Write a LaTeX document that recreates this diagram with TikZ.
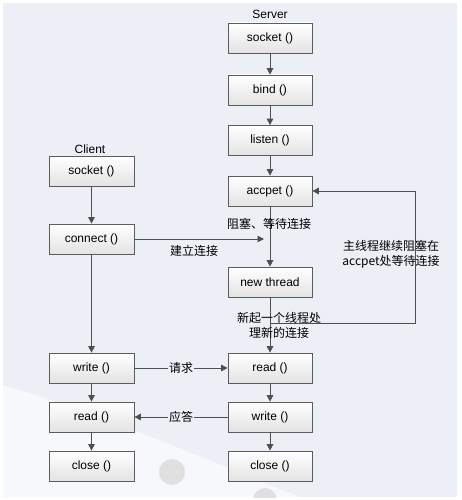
\documentclass[tikz,border=0pt]{standalone}
\usepackage{fontspec}
\setmainfont{Liberation Sans}
\newfontfamily\cjk{Noto Sans CJK SC}
\usetikzlibrary{arrows.meta}
\definecolor{bgc}{HTML}{ECEFF6}
\definecolor{lnc}{HTML}{4F4F4F}
\definecolor{bdc}{HTML}{5C5C5C}
\tikzset{
  fn/.style={draw=bdc, line width=0.7pt, top color=white, bottom color=black!11,
    minimum width=84pt, minimum height=30pt, inner sep=0pt, font=\fontsize{12}{12}\selectfont},
  arr/.style={draw=lnc, line width=0.9pt, -{Triangle[length=6.5pt,width=6.5pt]}},
  ln/.style={draw=lnc, line width=0.9pt},
  cn/.style={font=\cjk\fontsize{12}{15}\selectfont, align=center, inner sep=1pt},
  title/.style={font=\fontsize{12}{12}\selectfont}
}
\begin{document}
\begin{tikzpicture}[x=1pt,y=-1pt]
\useasboundingbox (0,0) rectangle (461,500);
\fill[white] (0,0) rectangle (461,500);
\fill[bgc] (3,3) rectangle (457,497);
% decoration
\fill[white!55!bgc] (3,385) .. controls (120,420) and (230,470) .. (300,497) -- (3,497) -- cycle;
\fill[black!12] (172,472) circle (13);
\begin{scope}
\clip (3,3) rectangle (457,497);
\fill[black!12] (265,500) circle (12);
\end{scope}
% titles
\node[title] (stitle) at (270,14) {Server};
\node[title] (ctitle) at (90,149) {Client};
% server nodes
\node[fn] (ssock) at (270,38) {socket ()};
\node[fn] (sbind) at (270,90) {bind ()};
\node[fn] (slist) at (270,140.5) {listen ()};
\node[fn] (sacc) at (270,191) {accpet ()};
\node[fn] (snt) at (270,282) {new thread};
\node[fn] (sread) at (270,368) {read ()};
\node[fn] (swrite) at (270,417) {write ()};
\node[fn] (sclose) at (270,466) {close ()};
% client nodes
\node[fn, minimum width=85pt] (csock) at (91.5,171) {socket ()};
\node[fn, minimum width=85pt] (ccon) at (91.5,239) {connect ()};
\node[fn, minimum width=85pt] (cwrite) at (91.5,368) {write ()};
\node[fn, minimum width=85pt] (cread) at (91.5,417) {read ()};
\node[fn, minimum width=85pt] (cclose) at (91.5,466) {close ()};
% server arrows
\draw[arr] (ssock) -- (sbind);
\draw[arr] (sbind) -- (slist);
\draw[arr] (slist) -- (sacc);
\draw[arr] (sacc) -- (snt);
\draw[arr] (snt) -- (sread);
\draw[arr] (sread) -- (swrite);
\draw[arr] (swrite) -- (sclose);
% loop back
\coordinate (lp) at (270,323);
\coordinate (lc) at (415,323);
\draw[arr] (lp) -- (lc) |- (sacc.east);
% client arrows
\draw[arr] (csock) -- (ccon);
\draw[arr] (ccon) -- (cwrite);
\draw[arr] (cwrite) -- (cread);
\draw[arr] (cread) -- (cclose);
% connect
\coordinate (ce) at (264,239);
\draw[arr] (ccon.east) -- (ce);
% request / reply
\draw[arr] (cwrite) -- (sread) node[midway, cn, fill=bgc] (lreq) {请求};
\draw[arr] (swrite) -- (cread) node[midway, cn, fill=bgc] (lrep) {应答};
% labels
\node[cn] (lblock) at (269,224) {阻塞、等待连接};
\node[cn] (lconn) at (194,251) {建立连接};
\node[cn] (lmain) at (391,254.5) {主线程继续阻塞在\\accpet处等待连接};
\node[cn] (lnew) at (279,325) {新起一个线程处\\理新的连接};
\end{tikzpicture}
\end{document}
